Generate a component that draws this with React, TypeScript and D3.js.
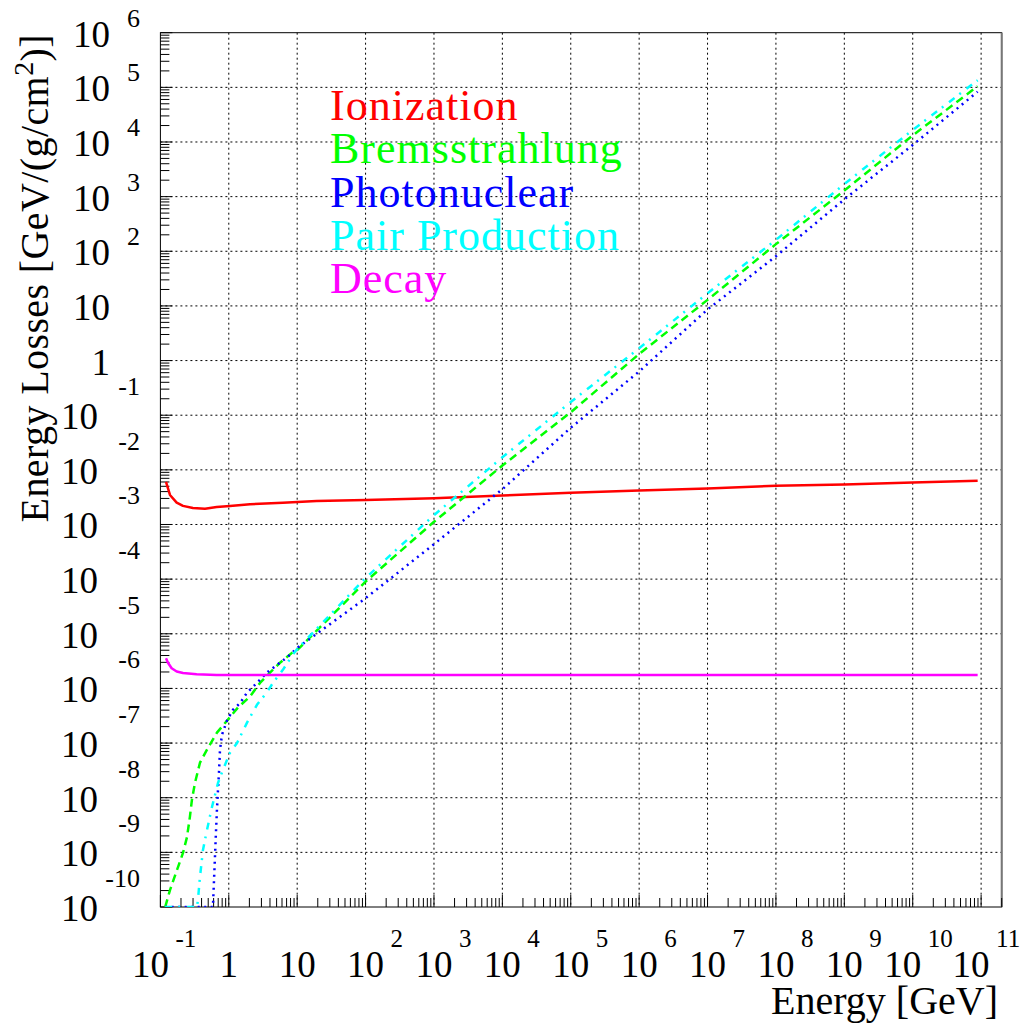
import React from 'react';
import * as d3 from 'd3';

const W = 1028;
const H = 1027;
const FRAME = { left: 160.4, right: 1001.7, top: 32.7, bottom: 907 };
const FONT = '"Liberation Serif", "Times New Roman", serif';

// axis ranges (GeV and GeV/(g/cm^2))
const xDomain: [number, number] = [0.1, 2e11];
const yDomain: [number, number] = [1e-10, 1e6];
const xLabelExponents = d3.range(-1, 12);
const yLabelExponents = d3.range(-10, 7);

// Ionization
const ionizationEnergy = [0.1208, 0.138, 0.173, 0.214, 0.299, 0.449, 0.665, 1.04, 2.04, 6.18, 19.2, 1e2, 1e3, 1e4, 1e5, 1e6, 1e7, 1e8, 1e9, 1e10, 8.9e10];
const ionizationLoss = [6.03e-3, 3.47e-3, 2.51e-3, 2.19e-3, 2.0e-3, 1.95e-3, 2.09e-3, 2.19e-3, 2.34e-3, 2.51e-3, 2.69e-3, 2.82e-3, 3.02e-3, 3.39e-3, 3.8e-3, 4.17e-3, 4.57e-3, 5.13e-3, 5.37e-3, 5.89e-3, 6.31e-3];

// Bremsstrahlung
const bremsEnergy = [0.1175, 0.138, 0.175, 0.214, 0.245, 0.27, 0.289, 0.32, 0.379, 0.48, 0.671, 0.973, 1.36, 2.04, 2.86, 4.0, 5.6, 8.38, 10, 1e2, 1e3, 1e4, 1e5, 1e6, 1e7, 1e8, 1e9, 1e10, 8.9e10];
const bremsLoss = [1.0e-10, 2.04e-10, 4.79e-10, 9.77e-10, 1.91e-9, 4.47e-9, 9.12e-9, 1.86e-8, 4.37e-8, 7.59e-8, 1.55e-7, 2.69e-7, 4.47e-7, 7.08e-7, 1.26e-6, 1.95e-6, 2.95e-6, 4.47e-6, 5.01e-6, 9.0e-5, 1.12e-3, 1.2e-2, 0.113, 1.32, 12.9, 135, 1290, 1.32e4, 1.05e5];

// Photonuclear
const photoEnergy = [0.1175, 0.586, 0.628, 0.649, 0.671, 0.695, 0.718, 0.743, 0.794, 0.94, 1.15, 1.46, 1.84, 2.58, 3.61, 5.05, 7.31, 10, 1e2, 1e3, 1e4, 1e5, 1e6, 1e7, 1e8, 1e9, 1e10, 8.9e10];
const photoLoss = [1e-12, 1e-12, 8.32e-10, 2.29e-9, 6.03e-9, 1.38e-8, 2.82e-8, 7.41e-8, 1.41e-7, 2.57e-7, 4.07e-7, 5.37e-7, 8.32e-7, 1.26e-6, 1.95e-6, 2.69e-6, 3.8e-6, 5.5e-6, 4.47e-5, 4.37e-4, 4.42e-3, 5.89e-2, 0.631, 8.61, 81.3, 891, 8810, 8.32e4];

// Pair production
const pairEnergy = [0.1175, 0.343, 0.354, 0.379, 0.419, 0.48, 0.568, 0.695, 0.822, 1.04, 1.32, 1.84, 2.58, 3.61, 4.42, 6.18, 8.65, 10, 1e2, 1e3, 1e4, 1e5, 1e6, 1e7, 1e8, 1e9, 1e10, 8.9e10];
const pairLoss = [1e-12, 1e-12, 1.35e-10, 3.55e-10, 1.1e-9, 2.57e-9, 6.76e-9, 1.86e-8, 3.24e-8, 6.61e-8, 1.0e-7, 2.34e-7, 5.01e-7, 8.51e-7, 1.26e-6, 2.19e-6, 4.17e-6, 5.25e-6, 1.05e-4, 1.48e-3, 1.7e-2, 0.174, 1.68, 17.0, 162, 1700, 1.66e4, 1.35e5];

// Decay
const decayEnergy = [0.1208, 0.129, 0.146, 0.173, 0.214, 0.339, 0.665, 1, 10, 8.9e10];
const decayLoss = [3.55e-6, 2.95e-6, 2.34e-6, 2.04e-6, 1.91e-6, 1.82e-6, 1.76e-6, 1.76e-6, 1.76e-6, 1.76e-6];

const seriesNames = ['Ionization', 'Bremsstrahlung', 'Photonuclear', 'Pair Production', 'Decay'];

const series = [
  { name: seriesNames[0], color: '#ff0000', dash: 'none', energy: ionizationEnergy, loss: ionizationLoss },
  { name: seriesNames[1], color: '#00ff00', dash: '8,5', energy: bremsEnergy, loss: bremsLoss },
  { name: seriesNames[2], color: '#0000ff', dash: '2,4.5', energy: photoEnergy, loss: photoLoss },
  { name: seriesNames[3], color: '#00ffff', dash: '7,6,2,7', energy: pairEnergy, loss: pairLoss },
  { name: seriesNames[4], color: '#ff00ff', dash: 'none', energy: decayEnergy, loss: decayLoss },
];

function minorTicks(domain: [number, number]) {
  const out: number[] = [];
  const lo = Math.floor(Math.log10(domain[0]));
  const hi = Math.ceil(Math.log10(domain[1]));
  for (let k = lo; k <= hi; k++) {
    for (let m = 2; m <= 9; m++) {
      const v = m * Math.pow(10, k);
      if (v >= domain[0] && v <= domain[1]) out.push(v);
    }
  }
  return out;
}

export default function App() {
  const x = d3.scaleLog().domain(xDomain).range([FRAME.left, FRAME.right]);
  const y = d3.scaleLog().domain(yDomain).range([FRAME.bottom, FRAME.top]).clamp(true);

  const majorLen = 12;
  const minorLen = 9;

  const xMinor = minorTicks(xDomain);
  const yMinor = minorTicks(yDomain);

  const line = (en: number[], ls: number[]) =>
    d3.line<number>()
      .x((_, i) => x(en[i]))
      .y((_, i) => y(ls[i]))(ls.map((_, i) => i)) || '';

  const gridDash = '2,3';

  return (
    <svg width={W} height={H} style={{ position: 'absolute', left: 0, top: 0, background: '#fff' }} fontFamily={FONT}>
      <rect x={0} y={0} width={W} height={H} fill="#fff" />
      <defs>
        <clipPath id="plotclip">
          <rect x={FRAME.left} y={FRAME.top - 2} width={FRAME.right - FRAME.left} height={FRAME.bottom - FRAME.top + 2} />
        </clipPath>
      </defs>

      {/* grid */}
      {xLabelExponents.filter(k => k > -1).map(k => (
        <line key={'gx' + k} x1={x(Math.pow(10, k))} x2={x(Math.pow(10, k))} y1={FRAME.top} y2={FRAME.bottom}
          stroke="#000" strokeWidth={1} strokeDasharray={gridDash} />
      ))}
      {yLabelExponents.filter(k => k > -10 && k < 6).map(k => (
        <line key={'gy' + k} x1={FRAME.left} x2={FRAME.right} y1={y(Math.pow(10, k))} y2={y(Math.pow(10, k))}
          stroke="#000" strokeWidth={1} strokeDasharray={gridDash} />
      ))}

      {/* frame */}
      <rect x={FRAME.left} y={FRAME.top} width={FRAME.right - FRAME.left} height={FRAME.bottom - FRAME.top}
        fill="none" stroke="#000" strokeWidth={1} />
      <line x1={FRAME.right} x2={FRAME.right} y1={FRAME.top} y2={FRAME.bottom} stroke="#777" strokeWidth={2} />

      {/* ticks */}
      {xLabelExponents.map(k => (
        <line key={'tx' + k} x1={x(Math.pow(10, k))} x2={x(Math.pow(10, k))} y1={FRAME.bottom} y2={FRAME.bottom - majorLen}
          stroke="#000" strokeWidth={1} />
      ))}
      {xMinor.map((v, i) => (
        <line key={'mx' + i} x1={x(v)} x2={x(v)} y1={FRAME.bottom} y2={FRAME.bottom - minorLen} stroke="#000" strokeWidth={1} />
      ))}
      {yLabelExponents.map(k => (
        <line key={'ty' + k} x1={FRAME.left} x2={FRAME.left + majorLen} y1={y(Math.pow(10, k))} y2={y(Math.pow(10, k))}
          stroke="#000" strokeWidth={1} />
      ))}
      {yMinor.map((v, i) => (
        <line key={'my' + i} x1={FRAME.left} x2={FRAME.left + minorLen} y1={y(v)} y2={y(v)} stroke="#000" strokeWidth={1} />
      ))}

      {/* curves */}
      <g clipPath="url(#plotclip)">
        {series.map(s => (
          <path key={s.name} d={line(s.energy, s.loss)} fill="none" stroke={s.color} strokeWidth={2.5}
            strokeDasharray={s.dash} strokeLinejoin="round" />
        ))}
      </g>

      {/* y labels */}
      {yLabelExponents.map(k => {
        const ty = y(Math.pow(10, k));
        if (k === 0 || k === 1) {
          return (
            <text key={'ly' + k} x={110} y={ty + 14} fontSize={37} textAnchor="end" fill="#000">{k === 0 ? '1' : '10'}</text>
          );
        }
        return (
          <g key={'ly' + k}>
            <text x={k < 0 ? 98 : 110} y={ty + 14} fontSize={37} textAnchor="end" fill="#000">10</text>
            <text x={140} y={k < 0 ? ty - 20 : ty - 6} fontSize={26} textAnchor="end" fill="#000">{String(k)}</text>
          </g>
        );
      })}

      {/* x labels */}
      {xLabelExponents.map(k => {
        const tx = x(Math.pow(10, k));
        if (k === 0 || k === 1) {
          return (
            <text key={'lx' + k} x={tx} y={977} fontSize={37} textAnchor="middle" fill="#000">{k === 0 ? '1' : '10'}</text>
          );
        }
        const expStr = String(k);
        const baseC = tx - 10 * (expStr.length - 1);
        return (
          <g key={'lx' + k}>
            <text x={baseC} y={977} fontSize={37} textAnchor="middle" fill="#000">10</text>
            <text x={baseC + 25} y={947} fontSize={25} textAnchor="start" fill="#000">{expStr}</text>
          </g>
        );
      })}

      {/* axis titles */}
      <text x={998} y={1014} fontSize={40} textAnchor="end" fill="#000">Energy [GeV]</text>
      <text transform="translate(48,34) rotate(-90)" fontSize={40} letterSpacing={0.4} textAnchor="end" fill="#000">
        Energy Losses [GeV/(g/cm<tspan fontSize={28} dy={-15}>2</tspan><tspan dy={15}>)]</tspan>
      </text>

      {/* legend */}
      {series.map((s, i) => (
        <text key={'lg' + s.name} x={330} y={120 + i * 43.3} fontSize={44} letterSpacing={1} fill={s.color}>{s.name}</text>
      ))}
    </svg>
  );
}
